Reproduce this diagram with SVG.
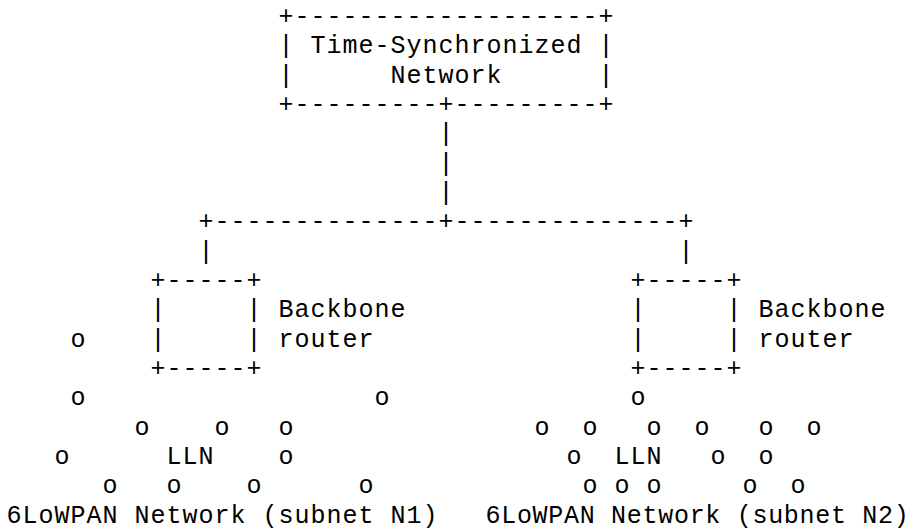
<svg xmlns="http://www.w3.org/2000/svg" width="915" height="531" viewBox="0 0 915 531" xml:space="preserve">
<style>
text { font-family: "Liberation Mono", "DejaVu Sans Mono", monospace; font-size: 25px; letter-spacing: 1px; fill: #000; white-space: pre; }
text.edge { letter-spacing: 0.7px; }
</style>
<rect width="915" height="531" fill="#fff"/>
<g id="time-synchronized-network">
<text x="278.5" y="24">+-------------------+</text>
<text x="278.5" y="53.3">| Time-Synchronized |</text>
<text x="278.5" y="82.7">|      Network      |</text>
<text x="278.5" y="112">+---------+---------+</text>
</g>
<g id="connectors">
<text x="438.5" y="141.4">|</text>
<text x="438.5" y="170.7">|</text>
<text x="438.5" y="200">|</text>
<text x="198.5" y="229.4">+--------------+--------------+</text>
<text x="198.5" y="258.7">|</text>
<text x="678.5" y="258.7">|</text>
</g>
<g id="backbone-router-1">
<text x="150.5" y="288.1">+-----+</text>
<text x="150.5" y="317.4">|     | Backbone</text>
<text x="150.5" y="346.7">|     | router</text>
<text x="150.5" y="376.1">+-----+</text>
</g>
<g id="backbone-router-2">
<text x="630.5" y="288.1">+-----+</text>
<text x="630.5" y="317.4">|     | Backbone</text>
<text x="630.5" y="346.7">|     | router</text>
<text x="630.5" y="376.1">+-----+</text>
</g>
<g id="lln-subnet-n1">
<text x="70.5" y="346.7">o</text>
<text x="70.5" y="405.4">o</text>
<text x="374.5" y="405.4">o</text>
<text x="134.5" y="434.8">o</text>
<text x="214.5" y="434.8">o</text>
<text x="278.5" y="434.8">o</text>
<text x="54.5" y="464.1">o</text>
<text x="166.5" y="464.1">LLN</text>
<text x="278.5" y="464.1">o</text>
<text x="102.5" y="493.4">o</text>
<text x="166.5" y="493.4">o</text>
<text x="246.5" y="493.4">o</text>
<text x="358.5" y="493.4">o</text>
<text x="6.5" y="522.8">6LoWPAN Network (subnet N1)</text>
</g>
<g id="lln-subnet-n2">
<text x="630.5" y="405.4">o</text>
<text x="534.5" y="434.8">o</text>
<text x="582.5" y="434.8">o</text>
<text x="646.5" y="434.8">o</text>
<text x="694.5" y="434.8">o</text>
<text x="758.5" y="434.8">o</text>
<text x="806.5" y="434.8">o</text>
<text x="566.5" y="464.1">o</text>
<text x="614.5" y="464.1">LLN</text>
<text x="710.5" y="464.1">o</text>
<text x="758.5" y="464.1">o</text>
<text x="582.5" y="493.4">o</text>
<text x="614.5" y="493.4">o</text>
<text x="646.5" y="493.4">o</text>
<text x="742.5" y="493.4">o</text>
<text x="790.5" y="493.4">o</text>
<text class="edge" x="485.5" y="522.8">6LoWPAN Network (subnet N2)</text>
</g>
</svg>
